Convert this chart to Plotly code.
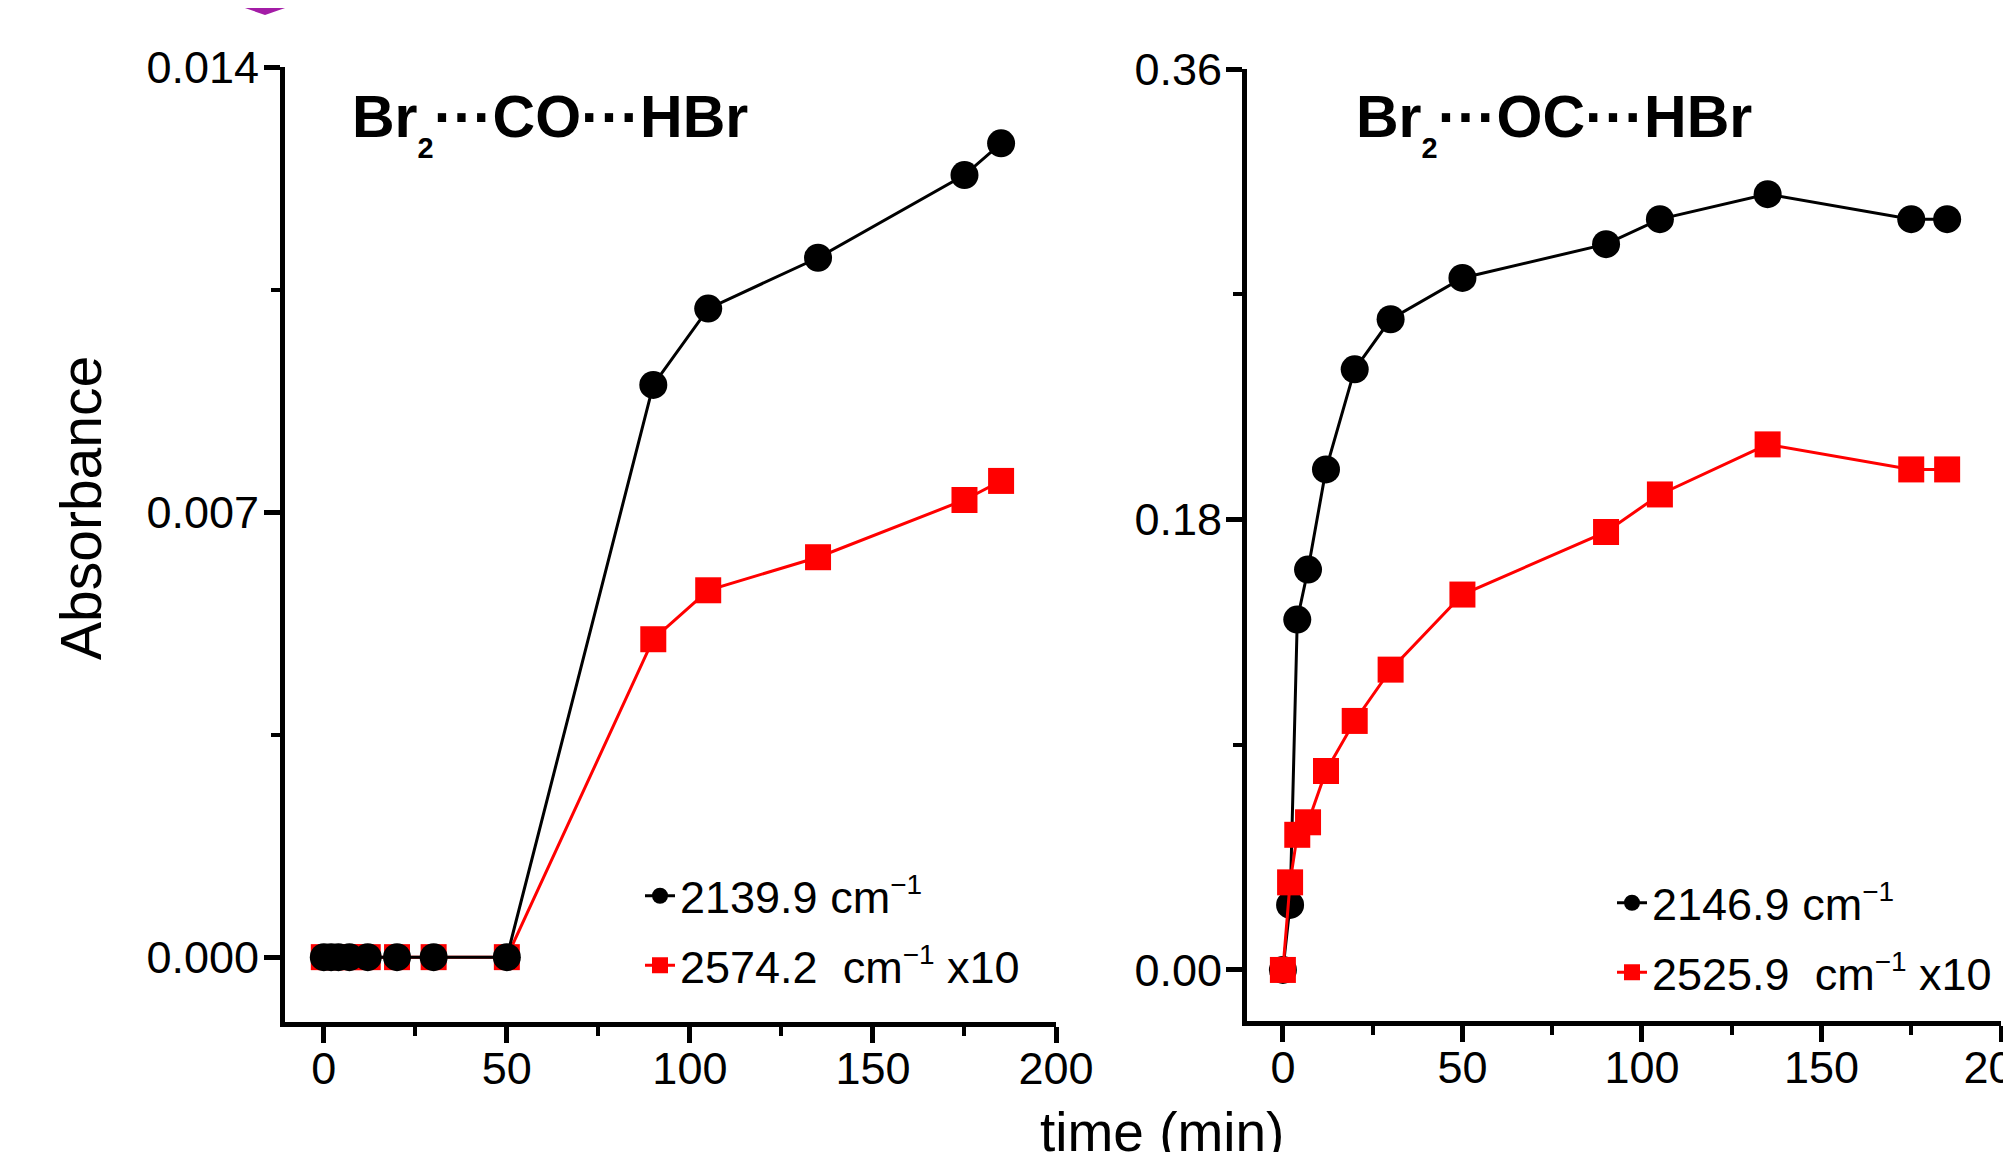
import plotly.graph_objects as go

# page offset of the plot div (browser body margin)
OFF = 8
W, H = 2011 - OFF, 1152 - OFF

# ---------------- data ----------------
time_left = [0, 2, 4, 7, 12, 20, 30, 50, 90, 105, 135, 175, 185]
abs_left_2139 = [0, 0, 0, 0, 0, 0, 0, 0, 0.0090, 0.0102, 0.0110, 0.0123, 0.0128]
abs_left_2574 = [0, 0, 0, 0, 0, 0, 0, 0, 0.0050, 0.00577, 0.00629, 0.00719, 0.00749]

time_right = [0, 2, 4, 7, 12, 20, 30, 50, 90, 105, 135, 175, 185]
abs_right_2146 = [0.0, 0.026, 0.140, 0.160, 0.200, 0.240, 0.260, 0.2765, 0.290, 0.300, 0.310, 0.300, 0.300]
abs_right_2525 = [0.0, 0.035, 0.054, 0.059, 0.0795, 0.0995, 0.120, 0.150, 0.175, 0.190, 0.210, 0.200, 0.200]

left_tickvals = [0.0, 0.007, 0.014]
right_tickvals = [0.0, 0.18, 0.36]
x_tickvals = [0, 50, 100, 150, 200]

FONT = "Liberation Sans, Arial, sans-serif"
SUP = "<sup><span style='font-size:28px'>\u22121</span></sup>"


def px_x(p):
    return (p - OFF) / W


def px_y(p):
    return 1 - (p - OFF) / H


fig = go.Figure()

# left panel: red below black
fig.add_trace(go.Scatter(
    x=time_left, y=abs_left_2574, mode="lines+markers",
    name="2574.2\u00a0\u00a0cm" + SUP + " x10",
    line=dict(color="#ff0000", width=3),
    marker=dict(symbol="square", size=26, color="#ff0000", line=dict(width=0)),
    xaxis="x", yaxis="y", legend="legend", legendrank=2, legendgroup="l2",
))
fig.add_trace(go.Scatter(
    x=time_left, y=abs_left_2139, mode="lines+markers",
    name="2139.9 cm" + SUP,
    line=dict(color="#000000", width=3),
    marker=dict(symbol="circle", size=28, color="#000000", line=dict(width=0)),
    xaxis="x", yaxis="y", legend="legend", legendrank=1, legendgroup="l1",
))

# right panel: red above black
fig.add_trace(go.Scatter(
    x=time_right, y=abs_right_2146, mode="lines+markers",
    name="2146.9 cm" + SUP,
    line=dict(color="#000000", width=3),
    marker=dict(symbol="circle", size=28, color="#000000", line=dict(width=0)),
    xaxis="x2", yaxis="y2", legend="legend2", legendrank=1, legendgroup="r1",
))
fig.add_trace(go.Scatter(
    x=time_right, y=abs_right_2525, mode="lines+markers",
    name="2525.9\u00a0\u00a0cm" + SUP + " x10",
    line=dict(color="#ff0000", width=3),
    marker=dict(symbol="square", size=26, color="#ff0000", line=dict(width=0)),
    xaxis="x2", yaxis="y2", legend="legend2", legendrank=2, legendgroup="r2",
))

axis_common = dict(
    showline=True, linecolor="black", linewidth=5,
    ticks="outside", ticklen=16, tickwidth=5, tickcolor="black",
    showgrid=False, zeroline=False, automargin=False,
    ticklabeloverflow="allow",
    tickfont=dict(family=FONT, size=45, color="black"),
)
minor_x = dict(dtick=25, ticklen=9, tickwidth=4, tickcolor="black", ticks="outside")

fig.update_layout(
    width=W, height=H, autosize=False,
    margin=dict(l=0, r=0, t=0, b=0, pad=0, autoexpand=False),
    paper_bgcolor="white", plot_bgcolor="rgba(0,0,0,0)",
    font=dict(family=FONT, color="black"),
    xaxis=dict(domain=[px_x(285), px_x(1056)], range=[-10.6, 200], anchor="y",
               tickvals=x_tickvals, ticklabelstandoff=-13, minor=minor_x,
               **axis_common),
    yaxis=dict(domain=[px_y(1022), px_y(67)], range=[-0.00102, 0.014], anchor="x",
               tickvals=left_tickvals, tickformat=".3f", ticklabelstandoff=-4,
               minor=dict(dtick=0.0035, ticklen=9, tickwidth=4, tickcolor="black", ticks="outside"),
               **axis_common),
    xaxis2=dict(domain=[px_x(1247), px_x(2001)], range=[-10.0, 200], anchor="y2",
                tickvals=x_tickvals, ticklabelstandoff=-13, minor=minor_x,
                **axis_common),
    yaxis2=dict(domain=[px_y(1021), px_y(69)], range=[-0.0204, 0.36], anchor="x2",
                tickvals=right_tickvals, tickformat=".2f", ticklabelstandoff=-5,
                minor=dict(dtick=0.09, ticklen=9, tickwidth=4, tickcolor="black", ticks="outside"),
                **axis_common),
    legend=dict(x=px_x(640), y=px_y(860), xanchor="left", yanchor="top",
                bgcolor="rgba(0,0,0,0)", borderwidth=0,
                font=dict(family=FONT, size=45, color="black"),
                traceorder="grouped", tracegroupgap=8, itemsizing="trace"),
    legend2=dict(x=px_x(1612), y=px_y(867), xanchor="left", yanchor="top",
                 bgcolor="rgba(0,0,0,0)", borderwidth=0,
                 font=dict(family=FONT, size=45, color="black"),
                 traceorder="grouped", tracegroupgap=8, itemsizing="trace"),
    showlegend=True,
)

title_font = dict(family=FONT, size=59, color="black")
SUB = "<sub><sub>2</sub></sub>"
fig.add_annotation(text="<b>Br" + SUB + "\u00b7\u00b7\u00b7CO\u00b7\u00b7\u00b7HBr</b>",
                   xref="paper", yref="paper", x=px_x(350), y=px_y(82),
                   xanchor="left", yanchor="top", showarrow=False, font=title_font)
fig.add_annotation(text="<b>Br" + SUB + "\u00b7\u00b7\u00b7OC\u00b7\u00b7\u00b7HBr</b>",
                   xref="paper", yref="paper", x=px_x(1354), y=px_y(82),
                   xanchor="left", yanchor="top", showarrow=False, font=title_font)

fig.add_annotation(text="Absorbance", textangle=-90,
                   xref="paper", yref="paper", x=px_x(81), y=px_y(508),
                   xanchor="center", yanchor="middle", showarrow=False,
                   font=dict(family=FONT, size=57, color="black"))
fig.add_annotation(text="time (min)",
                   xref="paper", yref="paper", x=px_x(1162), y=px_y(1099),
                   xanchor="center", yanchor="top", showarrow=False,
                   font=dict(family=FONT, size=55, color="black"))

# purple marker fragment at the top edge
fig.add_shape(type="path", xref="paper", yref="paper",
              path=f"M {px_x(222)},{px_y(0)} L {px_x(308)},{px_y(0)} L {px_x(265)},{px_y(15)} Z",
              fillcolor="#a31ca6", line=dict(width=0))

fig.write_html("out.html")
